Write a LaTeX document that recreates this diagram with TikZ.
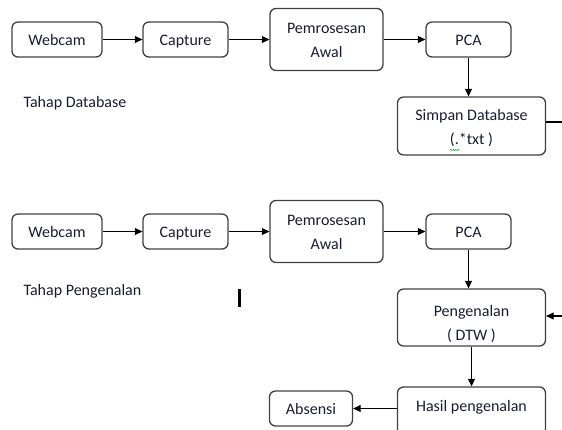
\documentclass[tikz,border=0pt]{standalone}
\usepackage{fontspec}
\setmainfont{Carlito}
\usepackage{tikz}
\usetikzlibrary{arrows.meta,positioning,decorations.pathmorphing}
\definecolor{edge}{HTML}{404040}
\definecolor{ink}{HTML}{1A1A33}

\begin{document}
\begin{tikzpicture}[x=1pt,y=-1pt,
  node distance=38.7pt and 40.7pt,
  every node/.style={font=\fontsize{16}{24}\selectfont,text=ink},
  box/.style={draw=edge,rounded corners=6pt,line width=1.3pt,
    minimum height=35pt,align=center,inner sep=0pt},
  onel/.style={box,text height=12pt,text depth=0pt},
  tall/.style={box,minimum height=58pt,text depth=0pt},
  arrow/.style={-{Triangle[length=7.5pt,width=7pt]},line width=1.2pt,draw=black}
]
\useasboundingbox (0,0) rectangle (562,430);
\clip (0,0) rectangle (562,430);
% tahap database
\node[onel,minimum width=90pt] (webcamA) at (57,39.5) {Webcam};
\node[onel,minimum width=85pt,right=39.7pt of webcamA] (captureA) {Capture};
\node[tall,minimum width=113pt,minimum height=62pt,text height=36pt,right=of captureA] (awalA) {Pemrosesan\\Awal};
\node[onel,minimum width=85pt,right=41.7pt of awalA] (pcaA) {PCA};
\node[tall,minimum width=148pt,text height=38pt,below=of pcaA,xshift=3pt] (simpan) {Simpan Database\\(.*txt )};
\node[anchor=west] (labelA) at (20,103) {Tahap Database};
\coordinate (dbout) at (562,122);
\draw[arrow] (webcamA) -- (captureA);
\draw[arrow] (captureA) -- (awalA);
\draw[arrow] (awalA) -- (pcaA);
\draw[arrow] (pcaA) -- (pcaA |- simpan.north);
\draw[line width=1.2pt] (dbout -| simpan.east) -- (dbout);
\draw[green!60!black,decorate,decoration={snake,amplitude=0.7pt,segment length=2.5pt}]
  (450,150) -- (460,150);
% tahap pengenalan
\node[onel,minimum width=90pt] (webcamB) at (57,231.5) {Webcam};
\node[onel,minimum width=85pt,right=39.7pt of webcamB] (captureB) {Capture};
\node[tall,minimum width=113pt,minimum height=62pt,text height=36pt,right=of captureB] (awalB) {Pemrosesan\\Awal};
\node[onel,minimum width=85pt,right=41.7pt of awalB] (pcaB) {PCA};
\node[tall,minimum width=148pt,minimum height=57pt,text height=45pt,below=of pcaB,xshift=3pt] (dtw) {Pengenalan\\( DTW )};
\node[box,minimum width=148pt,minimum height=48pt,text depth=10pt,below=39.7pt of dtw] (hasil) {Hasil pengenalan};
\node[onel,minimum width=83pt,left=43.7pt of hasil.north west,anchor=north east,yshift=-4pt] (absensi) {Absensi};
\node[anchor=west] (labelB) at (20,291) {Tahap Pengenalan};
\coordinate (dtwin) at (562,316);
\draw[arrow] (webcamB) -- (captureB);
\draw[arrow] (captureB) -- (awalB);
\draw[arrow] (awalB) -- (pcaB);
\draw[arrow] (pcaB) -- (pcaB |- dtw.north);
\draw[arrow] (dtw) -- (dtw |- hasil.north);
\draw[arrow] (hasil.west |- absensi) -- (absensi);
\draw[arrow] (dtwin) -- (dtwin -| dtw.east);
\draw[line width=3pt] (239.5,289) -- (239.5,307);
\end{tikzpicture}
\end{document}
